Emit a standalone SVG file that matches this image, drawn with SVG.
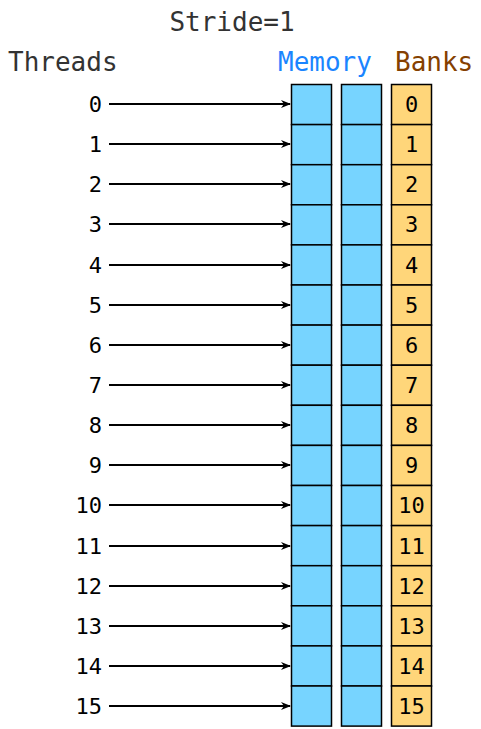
<svg xmlns="http://www.w3.org/2000/svg" width="481" height="729" viewBox="0 0 481 729">
<defs>
<marker id="ah" markerWidth="10" markerHeight="8" refX="9" refY="4" orient="auto" markerUnits="userSpaceOnUse">
<path d="M0,0 L10,4 L0,8 L3,4 Z" fill="#000"/>
</marker>
<style>
text{font-family:"DejaVu Sans Mono",monospace}
.h{font-size:26px}
.n{font-size:22px;fill:#000}
.m{fill:#77d4ff;stroke:#000;stroke-width:1.5}
.b{fill:#ffd67a;stroke:#000;stroke-width:1.5}
.a{stroke:#000;stroke-width:2;fill:none;marker-end:url(#ah)}
</style>
</defs>
<rect width="481" height="729" fill="#fff"/>
<g id="labels">
<text class="h" x="232" y="31" text-anchor="middle" fill="#333">Stride=1</text>
<text class="h" x="8" y="71" fill="#333">Threads</text>
<text class="h" x="278" y="71" fill="#1a85ff">Memory</text>
<text class="h" x="395" y="71" fill="#844000">Banks</text>
</g>
<g id="threads" class="n" text-anchor="end">
<text class="n" x="102" y="112">0</text>
<text class="n" x="102" y="152">1</text>
<text class="n" x="102" y="192">2</text>
<text class="n" x="102" y="232">3</text>
<text class="n" x="102" y="273">4</text>
<text class="n" x="102" y="313">5</text>
<text class="n" x="102" y="353">6</text>
<text class="n" x="102" y="393">7</text>
<text class="n" x="102" y="433">8</text>
<text class="n" x="102" y="473">9</text>
<text class="n" x="102" y="513">10</text>
<text class="n" x="102" y="554">11</text>
<text class="n" x="102" y="594">12</text>
<text class="n" x="102" y="634">13</text>
<text class="n" x="102" y="674">14</text>
<text class="n" x="102" y="714">15</text>
</g>
<g id="memory1">
<rect class="m" x="291.5" y="84.5" width="40" height="40.1"/>
<rect class="m" x="291.5" y="124.6" width="40" height="40.1"/>
<rect class="m" x="291.5" y="164.7" width="40" height="40.1"/>
<rect class="m" x="291.5" y="204.8" width="40" height="40.1"/>
<rect class="m" x="291.5" y="244.9" width="40" height="40.1"/>
<rect class="m" x="291.5" y="285.0" width="40" height="40.1"/>
<rect class="m" x="291.5" y="325.1" width="40" height="40.1"/>
<rect class="m" x="291.5" y="365.2" width="40" height="40.1"/>
<rect class="m" x="291.5" y="405.3" width="40" height="40.1"/>
<rect class="m" x="291.5" y="445.4" width="40" height="40.1"/>
<rect class="m" x="291.5" y="485.5" width="40" height="40.1"/>
<rect class="m" x="291.5" y="525.6" width="40" height="40.1"/>
<rect class="m" x="291.5" y="565.7" width="40" height="40.1"/>
<rect class="m" x="291.5" y="605.8" width="40" height="40.1"/>
<rect class="m" x="291.5" y="645.9" width="40" height="40.1"/>
<rect class="m" x="291.5" y="686.0" width="40" height="40.1"/>
</g>
<g id="memory2">
<rect class="m" x="341.5" y="84.5" width="40" height="40.1"/>
<rect class="m" x="341.5" y="124.6" width="40" height="40.1"/>
<rect class="m" x="341.5" y="164.7" width="40" height="40.1"/>
<rect class="m" x="341.5" y="204.8" width="40" height="40.1"/>
<rect class="m" x="341.5" y="244.9" width="40" height="40.1"/>
<rect class="m" x="341.5" y="285.0" width="40" height="40.1"/>
<rect class="m" x="341.5" y="325.1" width="40" height="40.1"/>
<rect class="m" x="341.5" y="365.2" width="40" height="40.1"/>
<rect class="m" x="341.5" y="405.3" width="40" height="40.1"/>
<rect class="m" x="341.5" y="445.4" width="40" height="40.1"/>
<rect class="m" x="341.5" y="485.5" width="40" height="40.1"/>
<rect class="m" x="341.5" y="525.6" width="40" height="40.1"/>
<rect class="m" x="341.5" y="565.7" width="40" height="40.1"/>
<rect class="m" x="341.5" y="605.8" width="40" height="40.1"/>
<rect class="m" x="341.5" y="645.9" width="40" height="40.1"/>
<rect class="m" x="341.5" y="686.0" width="40" height="40.1"/>
</g>
<g id="banks">
<rect class="b" x="391.5" y="84.5" width="40" height="40.1"/>
<rect class="b" x="391.5" y="124.6" width="40" height="40.1"/>
<rect class="b" x="391.5" y="164.7" width="40" height="40.1"/>
<rect class="b" x="391.5" y="204.8" width="40" height="40.1"/>
<rect class="b" x="391.5" y="244.9" width="40" height="40.1"/>
<rect class="b" x="391.5" y="285.0" width="40" height="40.1"/>
<rect class="b" x="391.5" y="325.1" width="40" height="40.1"/>
<rect class="b" x="391.5" y="365.2" width="40" height="40.1"/>
<rect class="b" x="391.5" y="405.3" width="40" height="40.1"/>
<rect class="b" x="391.5" y="445.4" width="40" height="40.1"/>
<rect class="b" x="391.5" y="485.5" width="40" height="40.1"/>
<rect class="b" x="391.5" y="525.6" width="40" height="40.1"/>
<rect class="b" x="391.5" y="565.7" width="40" height="40.1"/>
<rect class="b" x="391.5" y="605.8" width="40" height="40.1"/>
<rect class="b" x="391.5" y="645.9" width="40" height="40.1"/>
<rect class="b" x="391.5" y="686.0" width="40" height="40.1"/>
<g text-anchor="middle">
<text class="n" x="411.5" y="112">0</text>
<text class="n" x="411.5" y="152">1</text>
<text class="n" x="411.5" y="192">2</text>
<text class="n" x="411.5" y="232">3</text>
<text class="n" x="411.5" y="273">4</text>
<text class="n" x="411.5" y="313">5</text>
<text class="n" x="411.5" y="353">6</text>
<text class="n" x="411.5" y="393">7</text>
<text class="n" x="411.5" y="433">8</text>
<text class="n" x="411.5" y="473">9</text>
<text class="n" x="411.5" y="513">10</text>
<text class="n" x="411.5" y="554">11</text>
<text class="n" x="411.5" y="594">12</text>
<text class="n" x="411.5" y="634">13</text>
<text class="n" x="411.5" y="674">14</text>
<text class="n" x="411.5" y="714">15</text>
</g>
</g>
<g id="connectors">
<line class="a" x1="109" y1="104" x2="290" y2="104"/>
<line class="a" x1="109" y1="144" x2="290" y2="144"/>
<line class="a" x1="109" y1="184" x2="290" y2="184"/>
<line class="a" x1="109" y1="224" x2="290" y2="224"/>
<line class="a" x1="109" y1="265" x2="290" y2="265"/>
<line class="a" x1="109" y1="305" x2="290" y2="305"/>
<line class="a" x1="109" y1="345" x2="290" y2="345"/>
<line class="a" x1="109" y1="385" x2="290" y2="385"/>
<line class="a" x1="109" y1="425" x2="290" y2="425"/>
<line class="a" x1="109" y1="465" x2="290" y2="465"/>
<line class="a" x1="109" y1="505" x2="290" y2="505"/>
<line class="a" x1="109" y1="546" x2="290" y2="546"/>
<line class="a" x1="109" y1="586" x2="290" y2="586"/>
<line class="a" x1="109" y1="626" x2="290" y2="626"/>
<line class="a" x1="109" y1="666" x2="290" y2="666"/>
<line class="a" x1="109" y1="706" x2="290" y2="706"/>
</g>
</svg>
